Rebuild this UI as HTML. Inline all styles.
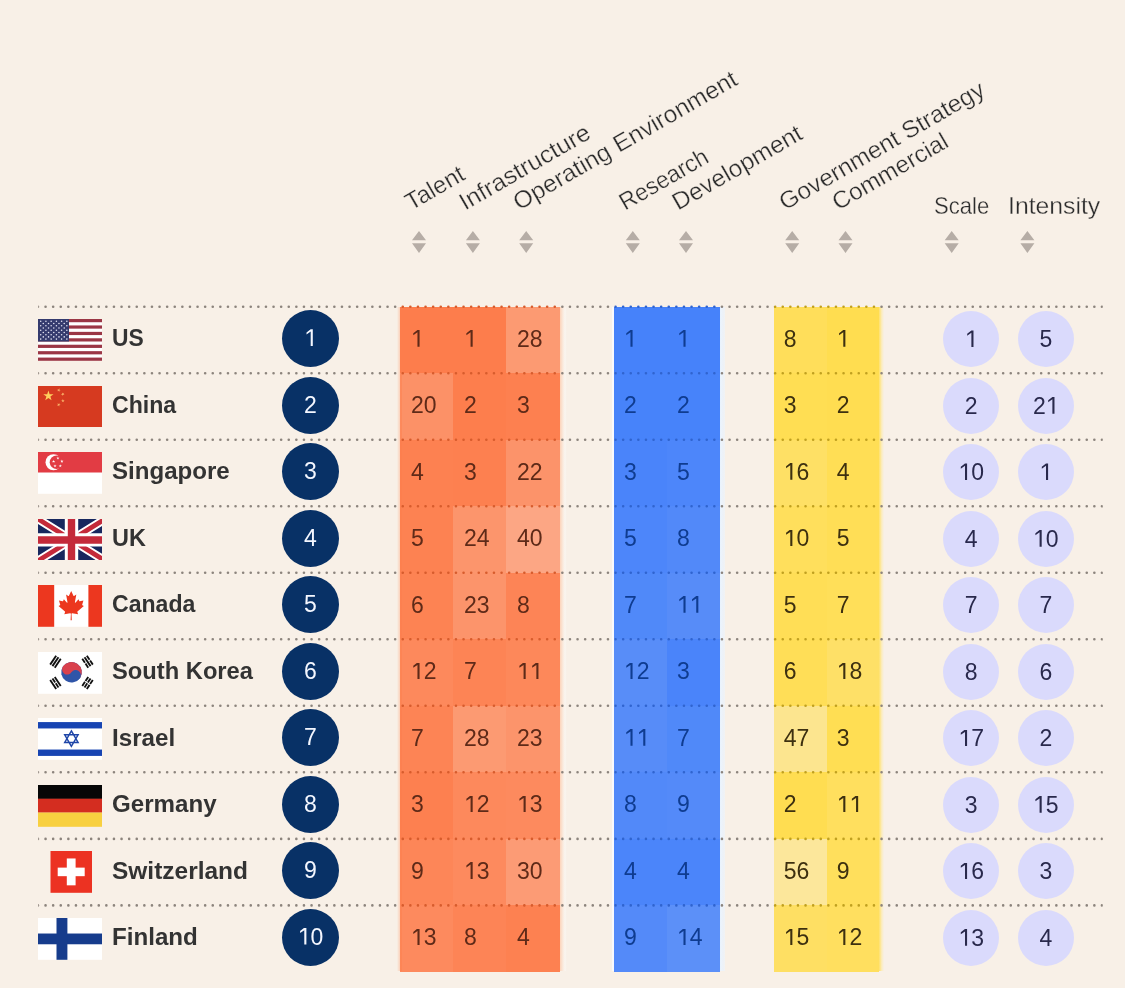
<!DOCTYPE html>
<html><head><meta charset="utf-8"><title>AI Index ranking</title>
<style>
html,body{margin:0;padding:0}
body{width:1125px;height:988px;background:#f8f0e7;position:relative;overflow:hidden;font-family:"Liberation Sans",sans-serif}
.abs{position:absolute}
#w{position:absolute;left:0;top:0;width:1125px;height:988px;will-change:transform}
.lbl{position:absolute;left:112px;font-weight:bold;font-size:23px;color:#333;white-space:nowrap;line-height:30px;height:30px;transform-origin:0 50%}
.rk{position:absolute;left:282px;width:57px;height:57px;border-radius:50%;background:#083166;color:#f4f7ff;font-size:23px;line-height:57px;text-align:center}
.c{position:absolute;height:66.52px;font-size:23px;line-height:64.52px;white-space:nowrap}
.c span{position:absolute;left:10px;top:0}
.lv{position:absolute;width:56px;height:56px;border-radius:50%;background:#dadafc;color:#29294c;font-size:23px;line-height:56.6px;text-align:center}
.hd{position:absolute;font-size:24px;color:#2c2c2c;-webkit-text-stroke:0.32px #f8f0e7;white-space:nowrap;line-height:28px;height:28px;transform-origin:0 100%}
.o{display:inline-block;width:.556em;height:.73em;overflow:hidden;text-indent:-9em;font-style:normal;white-space:nowrap;background:currentColor;clip-path:polygon(68% 0,51.5% 0,18.8% 19.6%,18.8% 31.5%,51.5% 14.3%,51.5% 100%,68% 100%)}
.flag{position:absolute;left:38px;width:64px;height:41.8px;display:block;filter:blur(.35px)}
.halo{position:absolute;top:306.7px;height:664.0px}
</style></head><body>
<div id="w">
<div class="halo" style="left:396.5px;width:5px;background:linear-gradient(90deg,rgba(253,190,150,0),rgba(253,170,130,.75))"></div>
<div class="halo" style="left:560px;width:7px;background:linear-gradient(90deg,rgba(253,200,170,.75),rgba(253,225,205,.45) 40%,rgba(250,247,243,.7) 70%,rgba(250,247,243,0))"></div>
<div class="halo" style="left:611.8px;width:2.6px;background:rgba(248,250,255,.9)"></div>
<div class="halo" style="left:720.2px;width:4.5px;background:linear-gradient(90deg,rgba(232,242,254,1),rgba(236,243,252,.6))"></div>
<div class="halo" style="left:878.5px;width:5px;background:linear-gradient(90deg,rgba(255,224,100,.95),rgba(255,232,150,.5) 55%,rgba(255,236,170,0))"></div>
<div class="c" style="left:400.2px;top:306.7px;width:53.3px;background:rgba(253,125,76,1.000);color:#5e2a18"><span style="left:10.7px"><i class="o">1</i></span></div>
<div class="c" style="left:453.3px;top:306.7px;width:53.2px;background:rgba(253,125,76,1.000);color:#5e2a18"><span style="left:10.7px"><i class="o">1</i></span></div>
<div class="c" style="left:506.3px;top:306.7px;width:53.9px;background:rgba(253,125,76,0.755);color:#5e2a18"><span style="left:10.7px">28</span></div>
<div class="c" style="left:614.2px;top:306.7px;width:53.2px;background:rgba(70,130,250,1.000);color:#0f3c90"><span style="left:9.7px"><i class="o">1</i></span></div>
<div class="c" style="left:667.2px;top:306.7px;width:53.2px;background:rgba(70,130,250,1.000);color:#0f3c90"><span style="left:9.7px"><i class="o">1</i></span></div>
<div class="c" style="left:773.9px;top:306.7px;width:53.2px;background:rgba(255,221,80,0.936);color:#3d3010"><span style="left:9.8px">8</span></div>
<div class="c" style="left:826.9px;top:306.7px;width:51.8px;background:rgba(255,221,80,1.000);color:#3d3010"><span style="left:9.8px"><i class="o">1</i></span></div>
<div class="c" style="left:400.2px;top:373.2px;width:53.3px;background:rgba(253,125,76,0.827);color:#5e2a18"><span style="left:10.7px">20</span></div>
<div class="c" style="left:453.3px;top:373.2px;width:53.2px;background:rgba(253,125,76,0.991);color:#5e2a18"><span style="left:10.7px">2</span></div>
<div class="c" style="left:506.3px;top:373.2px;width:53.9px;background:rgba(253,125,76,0.982);color:#5e2a18"><span style="left:10.7px">3</span></div>
<div class="c" style="left:614.2px;top:373.2px;width:53.2px;background:rgba(70,130,250,0.991);color:#0f3c90"><span style="left:9.7px">2</span></div>
<div class="c" style="left:667.2px;top:373.2px;width:53.2px;background:rgba(70,130,250,0.991);color:#0f3c90"><span style="left:9.7px">2</span></div>
<div class="c" style="left:773.9px;top:373.2px;width:53.2px;background:rgba(255,221,80,0.982);color:#3d3010"><span style="left:9.8px">3</span></div>
<div class="c" style="left:826.9px;top:373.2px;width:51.8px;background:rgba(255,221,80,0.991);color:#3d3010"><span style="left:9.8px">2</span></div>
<div class="c" style="left:400.2px;top:439.7px;width:53.3px;background:rgba(253,125,76,0.973);color:#5e2a18"><span style="left:10.7px">4</span></div>
<div class="c" style="left:453.3px;top:439.7px;width:53.2px;background:rgba(253,125,76,0.982);color:#5e2a18"><span style="left:10.7px">3</span></div>
<div class="c" style="left:506.3px;top:439.7px;width:53.9px;background:rgba(253,125,76,0.809);color:#5e2a18"><span style="left:10.7px">22</span></div>
<div class="c" style="left:614.2px;top:439.7px;width:53.2px;background:rgba(70,130,250,0.982);color:#0f3c90"><span style="left:9.7px">3</span></div>
<div class="c" style="left:667.2px;top:439.7px;width:53.2px;background:rgba(70,130,250,0.964);color:#0f3c90"><span style="left:9.7px">5</span></div>
<div class="c" style="left:773.9px;top:439.7px;width:53.2px;background:rgba(255,221,80,0.864);color:#3d3010"><span style="left:9.8px"><i class="o">1</i>6</span></div>
<div class="c" style="left:826.9px;top:439.7px;width:51.8px;background:rgba(255,221,80,0.973);color:#3d3010"><span style="left:9.8px">4</span></div>
<div class="c" style="left:400.2px;top:506.3px;width:53.3px;background:rgba(253,125,76,0.964);color:#5e2a18"><span style="left:10.7px">5</span></div>
<div class="c" style="left:453.3px;top:506.3px;width:53.2px;background:rgba(253,125,76,0.791);color:#5e2a18"><span style="left:10.7px">24</span></div>
<div class="c" style="left:506.3px;top:506.3px;width:53.9px;background:rgba(253,125,76,0.645);color:#5e2a18"><span style="left:10.7px">40</span></div>
<div class="c" style="left:614.2px;top:506.3px;width:53.2px;background:rgba(70,130,250,0.964);color:#0f3c90"><span style="left:9.7px">5</span></div>
<div class="c" style="left:667.2px;top:506.3px;width:53.2px;background:rgba(70,130,250,0.936);color:#0f3c90"><span style="left:9.7px">8</span></div>
<div class="c" style="left:773.9px;top:506.3px;width:53.2px;background:rgba(255,221,80,0.918);color:#3d3010"><span style="left:9.8px"><i class="o">1</i>0</span></div>
<div class="c" style="left:826.9px;top:506.3px;width:51.8px;background:rgba(255,221,80,0.964);color:#3d3010"><span style="left:9.8px">5</span></div>
<div class="c" style="left:400.2px;top:572.8px;width:53.3px;background:rgba(253,125,76,0.955);color:#5e2a18"><span style="left:10.7px">6</span></div>
<div class="c" style="left:453.3px;top:572.8px;width:53.2px;background:rgba(253,125,76,0.800);color:#5e2a18"><span style="left:10.7px">23</span></div>
<div class="c" style="left:506.3px;top:572.8px;width:53.9px;background:rgba(253,125,76,0.936);color:#5e2a18"><span style="left:10.7px">8</span></div>
<div class="c" style="left:614.2px;top:572.8px;width:53.2px;background:rgba(70,130,250,0.945);color:#0f3c90"><span style="left:9.7px">7</span></div>
<div class="c" style="left:667.2px;top:572.8px;width:53.2px;background:rgba(70,130,250,0.909);color:#0f3c90"><span style="left:9.7px"><i class="o">1</i><i class="o">1</i></span></div>
<div class="c" style="left:773.9px;top:572.8px;width:53.2px;background:rgba(255,221,80,0.964);color:#3d3010"><span style="left:9.8px">5</span></div>
<div class="c" style="left:826.9px;top:572.8px;width:51.8px;background:rgba(255,221,80,0.945);color:#3d3010"><span style="left:9.8px">7</span></div>
<div class="c" style="left:400.2px;top:639.3px;width:53.3px;background:rgba(253,125,76,0.900);color:#5e2a18"><span style="left:10.7px"><i class="o">1</i>2</span></div>
<div class="c" style="left:453.3px;top:639.3px;width:53.2px;background:rgba(253,125,76,0.945);color:#5e2a18"><span style="left:10.7px">7</span></div>
<div class="c" style="left:506.3px;top:639.3px;width:53.9px;background:rgba(253,125,76,0.909);color:#5e2a18"><span style="left:10.7px"><i class="o">1</i><i class="o">1</i></span></div>
<div class="c" style="left:614.2px;top:639.3px;width:53.2px;background:rgba(70,130,250,0.900);color:#0f3c90"><span style="left:9.7px"><i class="o">1</i>2</span></div>
<div class="c" style="left:667.2px;top:639.3px;width:53.2px;background:rgba(70,130,250,0.982);color:#0f3c90"><span style="left:9.7px">3</span></div>
<div class="c" style="left:773.9px;top:639.3px;width:53.2px;background:rgba(255,221,80,0.955);color:#3d3010"><span style="left:9.8px">6</span></div>
<div class="c" style="left:826.9px;top:639.3px;width:51.8px;background:rgba(255,221,80,0.845);color:#3d3010"><span style="left:9.8px"><i class="o">1</i>8</span></div>
<div class="c" style="left:400.2px;top:705.8px;width:53.3px;background:rgba(253,125,76,0.945);color:#5e2a18"><span style="left:10.7px">7</span></div>
<div class="c" style="left:453.3px;top:705.8px;width:53.2px;background:rgba(253,125,76,0.755);color:#5e2a18"><span style="left:10.7px">28</span></div>
<div class="c" style="left:506.3px;top:705.8px;width:53.9px;background:rgba(253,125,76,0.800);color:#5e2a18"><span style="left:10.7px">23</span></div>
<div class="c" style="left:614.2px;top:705.8px;width:53.2px;background:rgba(70,130,250,0.909);color:#0f3c90"><span style="left:9.7px"><i class="o">1</i><i class="o">1</i></span></div>
<div class="c" style="left:667.2px;top:705.8px;width:53.2px;background:rgba(70,130,250,0.945);color:#0f3c90"><span style="left:9.7px">7</span></div>
<div class="c" style="left:773.9px;top:705.8px;width:53.2px;background:rgba(255,221,80,0.582);color:#3d3010"><span style="left:9.8px">47</span></div>
<div class="c" style="left:826.9px;top:705.8px;width:51.8px;background:rgba(255,221,80,0.982);color:#3d3010"><span style="left:9.8px">3</span></div>
<div class="c" style="left:400.2px;top:772.3px;width:53.3px;background:rgba(253,125,76,0.982);color:#5e2a18"><span style="left:10.7px">3</span></div>
<div class="c" style="left:453.3px;top:772.3px;width:53.2px;background:rgba(253,125,76,0.900);color:#5e2a18"><span style="left:10.7px"><i class="o">1</i>2</span></div>
<div class="c" style="left:506.3px;top:772.3px;width:53.9px;background:rgba(253,125,76,0.891);color:#5e2a18"><span style="left:10.7px"><i class="o">1</i>3</span></div>
<div class="c" style="left:614.2px;top:772.3px;width:53.2px;background:rgba(70,130,250,0.936);color:#0f3c90"><span style="left:9.7px">8</span></div>
<div class="c" style="left:667.2px;top:772.3px;width:53.2px;background:rgba(70,130,250,0.927);color:#0f3c90"><span style="left:9.7px">9</span></div>
<div class="c" style="left:773.9px;top:772.3px;width:53.2px;background:rgba(255,221,80,0.991);color:#3d3010"><span style="left:9.8px">2</span></div>
<div class="c" style="left:826.9px;top:772.3px;width:51.8px;background:rgba(255,221,80,0.909);color:#3d3010"><span style="left:9.8px"><i class="o">1</i><i class="o">1</i></span></div>
<div class="c" style="left:400.2px;top:838.9px;width:53.3px;background:rgba(253,125,76,0.927);color:#5e2a18"><span style="left:10.7px">9</span></div>
<div class="c" style="left:453.3px;top:838.9px;width:53.2px;background:rgba(253,125,76,0.891);color:#5e2a18"><span style="left:10.7px"><i class="o">1</i>3</span></div>
<div class="c" style="left:506.3px;top:838.9px;width:53.9px;background:rgba(253,125,76,0.736);color:#5e2a18"><span style="left:10.7px">30</span></div>
<div class="c" style="left:614.2px;top:838.9px;width:53.2px;background:rgba(70,130,250,0.973);color:#0f3c90"><span style="left:9.7px">4</span></div>
<div class="c" style="left:667.2px;top:838.9px;width:53.2px;background:rgba(70,130,250,0.973);color:#0f3c90"><span style="left:9.7px">4</span></div>
<div class="c" style="left:773.9px;top:838.9px;width:53.2px;background:rgba(255,221,80,0.500);color:#3d3010"><span style="left:9.8px">56</span></div>
<div class="c" style="left:826.9px;top:838.9px;width:51.8px;background:rgba(255,221,80,0.927);color:#3d3010"><span style="left:9.8px">9</span></div>
<div class="c" style="left:400.2px;top:905.4px;width:53.3px;background:rgba(253,125,76,0.891);color:#5e2a18"><span style="left:10.7px"><i class="o">1</i>3</span></div>
<div class="c" style="left:453.3px;top:905.4px;width:53.2px;background:rgba(253,125,76,0.936);color:#5e2a18"><span style="left:10.7px">8</span></div>
<div class="c" style="left:506.3px;top:905.4px;width:53.9px;background:rgba(253,125,76,0.973);color:#5e2a18"><span style="left:10.7px">4</span></div>
<div class="c" style="left:614.2px;top:905.4px;width:53.2px;background:rgba(70,130,250,0.927);color:#0f3c90"><span style="left:9.7px">9</span></div>
<div class="c" style="left:667.2px;top:905.4px;width:53.2px;background:rgba(70,130,250,0.882);color:#0f3c90"><span style="left:9.7px"><i class="o">1</i>4</span></div>
<div class="c" style="left:773.9px;top:905.4px;width:53.2px;background:rgba(255,221,80,0.873);color:#3d3010"><span style="left:9.8px"><i class="o">1</i>5</span></div>
<div class="c" style="left:826.9px;top:905.4px;width:51.8px;background:rgba(255,221,80,0.900);color:#3d3010"><span style="left:9.8px"><i class="o">1</i>2</span></div>
<svg class="abs" style="left:0;top:0" width="1125" height="988" viewBox="0 0 1125 988">
<defs>
<clipPath id="s0"><rect x="38.2" y="0" width="362.0" height="988"/></clipPath>
<clipPath id="s1"><rect x="400.2" y="0" width="159.8" height="988"/></clipPath>
<clipPath id="s2"><rect x="560" y="0" width="54.2" height="988"/></clipPath>
<clipPath id="s3"><rect x="614.2" y="0" width="106.0" height="988"/></clipPath>
<clipPath id="s4"><rect x="720.2" y="0" width="53.7" height="988"/></clipPath>
<clipPath id="s5"><rect x="773.9" y="0" width="105.1" height="988"/></clipPath>
<clipPath id="s6"><rect x="879" y="0" width="223.8" height="988"/></clipPath>
</defs>
<g clip-path="url(#s0)" stroke="#8c847d" stroke-width="2.6" stroke-linecap="round" stroke-dasharray="0.01 7.59">
<line x1="37.95" y1="306.7" x2="1104" y2="306.7"/>
<line x1="37.95" y1="373.2" x2="1104" y2="373.2"/>
<line x1="37.95" y1="439.7" x2="1104" y2="439.7"/>
<line x1="37.95" y1="506.3" x2="1104" y2="506.3"/>
<line x1="37.95" y1="572.8" x2="1104" y2="572.8"/>
<line x1="37.95" y1="639.3" x2="1104" y2="639.3"/>
<line x1="37.95" y1="705.8" x2="1104" y2="705.8"/>
<line x1="37.95" y1="772.3" x2="1104" y2="772.3"/>
<line x1="37.95" y1="838.9" x2="1104" y2="838.9"/>
<line x1="37.95" y1="905.4" x2="1104" y2="905.4"/>
</g>
<g clip-path="url(#s1)" stroke="#d75c2d" stroke-width="2.6" stroke-linecap="round" stroke-dasharray="0.01 7.59">
<line x1="37.95" y1="306.7" x2="1104" y2="306.7"/>
<line x1="37.95" y1="373.2" x2="1104" y2="373.2"/>
<line x1="37.95" y1="439.7" x2="1104" y2="439.7"/>
<line x1="37.95" y1="506.3" x2="1104" y2="506.3"/>
<line x1="37.95" y1="572.8" x2="1104" y2="572.8"/>
<line x1="37.95" y1="639.3" x2="1104" y2="639.3"/>
<line x1="37.95" y1="705.8" x2="1104" y2="705.8"/>
<line x1="37.95" y1="772.3" x2="1104" y2="772.3"/>
<line x1="37.95" y1="838.9" x2="1104" y2="838.9"/>
<line x1="37.95" y1="905.4" x2="1104" y2="905.4"/>
</g>
<g clip-path="url(#s2)" stroke="#8c847d" stroke-width="2.6" stroke-linecap="round" stroke-dasharray="0.01 7.59">
<line x1="37.95" y1="306.7" x2="1104" y2="306.7"/>
<line x1="37.95" y1="373.2" x2="1104" y2="373.2"/>
<line x1="37.95" y1="439.7" x2="1104" y2="439.7"/>
<line x1="37.95" y1="506.3" x2="1104" y2="506.3"/>
<line x1="37.95" y1="572.8" x2="1104" y2="572.8"/>
<line x1="37.95" y1="639.3" x2="1104" y2="639.3"/>
<line x1="37.95" y1="705.8" x2="1104" y2="705.8"/>
<line x1="37.95" y1="772.3" x2="1104" y2="772.3"/>
<line x1="37.95" y1="838.9" x2="1104" y2="838.9"/>
<line x1="37.95" y1="905.4" x2="1104" y2="905.4"/>
</g>
<g clip-path="url(#s3)" stroke="#3064cf" stroke-width="2.6" stroke-linecap="round" stroke-dasharray="0.01 7.59">
<line x1="37.95" y1="306.7" x2="1104" y2="306.7"/>
<line x1="37.95" y1="373.2" x2="1104" y2="373.2"/>
<line x1="37.95" y1="439.7" x2="1104" y2="439.7"/>
<line x1="37.95" y1="506.3" x2="1104" y2="506.3"/>
<line x1="37.95" y1="572.8" x2="1104" y2="572.8"/>
<line x1="37.95" y1="639.3" x2="1104" y2="639.3"/>
<line x1="37.95" y1="705.8" x2="1104" y2="705.8"/>
<line x1="37.95" y1="772.3" x2="1104" y2="772.3"/>
<line x1="37.95" y1="838.9" x2="1104" y2="838.9"/>
<line x1="37.95" y1="905.4" x2="1104" y2="905.4"/>
</g>
<g clip-path="url(#s4)" stroke="#8c847d" stroke-width="2.6" stroke-linecap="round" stroke-dasharray="0.01 7.59">
<line x1="37.95" y1="306.7" x2="1104" y2="306.7"/>
<line x1="37.95" y1="373.2" x2="1104" y2="373.2"/>
<line x1="37.95" y1="439.7" x2="1104" y2="439.7"/>
<line x1="37.95" y1="506.3" x2="1104" y2="506.3"/>
<line x1="37.95" y1="572.8" x2="1104" y2="572.8"/>
<line x1="37.95" y1="639.3" x2="1104" y2="639.3"/>
<line x1="37.95" y1="705.8" x2="1104" y2="705.8"/>
<line x1="37.95" y1="772.3" x2="1104" y2="772.3"/>
<line x1="37.95" y1="838.9" x2="1104" y2="838.9"/>
<line x1="37.95" y1="905.4" x2="1104" y2="905.4"/>
</g>
<g clip-path="url(#s5)" stroke="#c0a020" stroke-width="2.6" stroke-linecap="round" stroke-dasharray="0.01 7.59">
<line x1="37.95" y1="306.7" x2="1104" y2="306.7"/>
<line x1="37.95" y1="373.2" x2="1104" y2="373.2"/>
<line x1="37.95" y1="439.7" x2="1104" y2="439.7"/>
<line x1="37.95" y1="506.3" x2="1104" y2="506.3"/>
<line x1="37.95" y1="572.8" x2="1104" y2="572.8"/>
<line x1="37.95" y1="639.3" x2="1104" y2="639.3"/>
<line x1="37.95" y1="705.8" x2="1104" y2="705.8"/>
<line x1="37.95" y1="772.3" x2="1104" y2="772.3"/>
<line x1="37.95" y1="838.9" x2="1104" y2="838.9"/>
<line x1="37.95" y1="905.4" x2="1104" y2="905.4"/>
</g>
<g clip-path="url(#s6)" stroke="#8c847d" stroke-width="2.6" stroke-linecap="round" stroke-dasharray="0.01 7.59">
<line x1="37.95" y1="306.7" x2="1104" y2="306.7"/>
<line x1="37.95" y1="373.2" x2="1104" y2="373.2"/>
<line x1="37.95" y1="439.7" x2="1104" y2="439.7"/>
<line x1="37.95" y1="506.3" x2="1104" y2="506.3"/>
<line x1="37.95" y1="572.8" x2="1104" y2="572.8"/>
<line x1="37.95" y1="639.3" x2="1104" y2="639.3"/>
<line x1="37.95" y1="705.8" x2="1104" y2="705.8"/>
<line x1="37.95" y1="772.3" x2="1104" y2="772.3"/>
<line x1="37.95" y1="838.9" x2="1104" y2="838.9"/>
<line x1="37.95" y1="905.4" x2="1104" y2="905.4"/>
</g>
</svg>
<svg class="flag" style="top:319.2px" viewBox="0 0 64 42" preserveAspectRatio="none"><rect width="64" height="42" fill="#fff"/><rect y="0.00" width="64" height="3.23" fill="#9b3645"/><rect y="6.46" width="64" height="3.23" fill="#9b3645"/><rect y="12.92" width="64" height="3.23" fill="#9b3645"/><rect y="19.38" width="64" height="3.23" fill="#9b3645"/><rect y="25.85" width="64" height="3.23" fill="#9b3645"/><rect y="32.31" width="64" height="3.23" fill="#9b3645"/><rect y="38.77" width="64" height="3.23" fill="#9b3645"/><rect width="31" height="22.62" fill="#353b6e"/><circle cx="2.70" cy="2.30" r="0.78" fill="#e4e4f4"/><circle cx="7.93" cy="2.30" r="0.78" fill="#e4e4f4"/><circle cx="13.16" cy="2.30" r="0.78" fill="#e4e4f4"/><circle cx="18.39" cy="2.30" r="0.78" fill="#e4e4f4"/><circle cx="23.62" cy="2.30" r="0.78" fill="#e4e4f4"/><circle cx="28.85" cy="2.30" r="0.78" fill="#e4e4f4"/><circle cx="5.30" cy="4.54" r="0.78" fill="#e4e4f4"/><circle cx="10.53" cy="4.54" r="0.78" fill="#e4e4f4"/><circle cx="15.76" cy="4.54" r="0.78" fill="#e4e4f4"/><circle cx="20.99" cy="4.54" r="0.78" fill="#e4e4f4"/><circle cx="26.22" cy="4.54" r="0.78" fill="#e4e4f4"/><circle cx="2.70" cy="6.78" r="0.78" fill="#e4e4f4"/><circle cx="7.93" cy="6.78" r="0.78" fill="#e4e4f4"/><circle cx="13.16" cy="6.78" r="0.78" fill="#e4e4f4"/><circle cx="18.39" cy="6.78" r="0.78" fill="#e4e4f4"/><circle cx="23.62" cy="6.78" r="0.78" fill="#e4e4f4"/><circle cx="28.85" cy="6.78" r="0.78" fill="#e4e4f4"/><circle cx="5.30" cy="9.02" r="0.78" fill="#e4e4f4"/><circle cx="10.53" cy="9.02" r="0.78" fill="#e4e4f4"/><circle cx="15.76" cy="9.02" r="0.78" fill="#e4e4f4"/><circle cx="20.99" cy="9.02" r="0.78" fill="#e4e4f4"/><circle cx="26.22" cy="9.02" r="0.78" fill="#e4e4f4"/><circle cx="2.70" cy="11.26" r="0.78" fill="#e4e4f4"/><circle cx="7.93" cy="11.26" r="0.78" fill="#e4e4f4"/><circle cx="13.16" cy="11.26" r="0.78" fill="#e4e4f4"/><circle cx="18.39" cy="11.26" r="0.78" fill="#e4e4f4"/><circle cx="23.62" cy="11.26" r="0.78" fill="#e4e4f4"/><circle cx="28.85" cy="11.26" r="0.78" fill="#e4e4f4"/><circle cx="5.30" cy="13.50" r="0.78" fill="#e4e4f4"/><circle cx="10.53" cy="13.50" r="0.78" fill="#e4e4f4"/><circle cx="15.76" cy="13.50" r="0.78" fill="#e4e4f4"/><circle cx="20.99" cy="13.50" r="0.78" fill="#e4e4f4"/><circle cx="26.22" cy="13.50" r="0.78" fill="#e4e4f4"/><circle cx="2.70" cy="15.74" r="0.78" fill="#e4e4f4"/><circle cx="7.93" cy="15.74" r="0.78" fill="#e4e4f4"/><circle cx="13.16" cy="15.74" r="0.78" fill="#e4e4f4"/><circle cx="18.39" cy="15.74" r="0.78" fill="#e4e4f4"/><circle cx="23.62" cy="15.74" r="0.78" fill="#e4e4f4"/><circle cx="28.85" cy="15.74" r="0.78" fill="#e4e4f4"/><circle cx="5.30" cy="17.98" r="0.78" fill="#e4e4f4"/><circle cx="10.53" cy="17.98" r="0.78" fill="#e4e4f4"/><circle cx="15.76" cy="17.98" r="0.78" fill="#e4e4f4"/><circle cx="20.99" cy="17.98" r="0.78" fill="#e4e4f4"/><circle cx="26.22" cy="17.98" r="0.78" fill="#e4e4f4"/><circle cx="2.70" cy="20.22" r="0.78" fill="#e4e4f4"/><circle cx="7.93" cy="20.22" r="0.78" fill="#e4e4f4"/><circle cx="13.16" cy="20.22" r="0.78" fill="#e4e4f4"/><circle cx="18.39" cy="20.22" r="0.78" fill="#e4e4f4"/><circle cx="23.62" cy="20.22" r="0.78" fill="#e4e4f4"/><circle cx="28.85" cy="20.22" r="0.78" fill="#e4e4f4"/></svg>
<div class="lbl" style="top:323.4px;transform:scaleX(0.993)">US</div>
<div class="rk" style="top:310.0px"><i class="o">1</i></div>
<div class="lv" style="left:943.2px;top:311.2px"><i class="o">1</i></div>
<div class="lv" style="left:1017.8px;top:311.2px">5</div>
<svg class="flag" style="top:385.7px" viewBox="0 0 64 42" preserveAspectRatio="none"><rect width="64" height="42" fill="#d63a20"/><polygon points="10.40,4.60 11.61,8.33 15.54,8.33 12.36,10.64 13.57,14.37 10.40,12.06 7.23,14.37 8.44,10.64 5.26,8.33 9.19,8.33" fill="#ffcf5e"/><polygon points="21.45,2.31 21.40,3.69 22.70,4.17 21.37,4.55 21.32,5.93 20.55,4.78 19.22,5.16 20.07,4.07 19.30,2.93 20.60,3.40" fill="#f9b068"/><polygon points="26.14,6.86 25.52,8.09 26.49,9.06 25.13,8.85 24.50,10.08 24.29,8.71 22.92,8.50 24.15,7.87 23.94,6.51 24.91,7.48" fill="#f9b068"/><polygon points="24.90,12.90 25.33,14.21 26.71,14.21 25.59,15.02 26.02,16.34 24.90,15.53 23.78,16.34 24.21,15.02 23.09,14.21 24.47,14.21" fill="#f9b068"/><polygon points="21.35,17.01 21.30,18.39 22.60,18.87 21.27,19.25 21.22,20.63 20.45,19.48 19.12,19.86 19.97,18.77 19.20,17.63 20.50,18.10" fill="#f9b068"/></svg>
<div class="lbl" style="top:389.9px;transform:scaleX(1.005)">China</div>
<div class="rk" style="top:376.5px">2</div>
<div class="lv" style="left:943.2px;top:377.7px">2</div>
<div class="lv" style="left:1017.8px;top:377.7px">2<i class="o">1</i></div>
<svg class="flag" style="top:452.2px" viewBox="0 0 64 42" preserveAspectRatio="none"><rect width="64" height="42" fill="#fff"/><rect width="64" height="20.6" fill="#e23c44"/><circle cx="15.5" cy="10.3" r="8" fill="#fff"/><circle cx="18.6" cy="10.3" r="6.9" fill="#e23c44"/><polygon points="19.90,4.50 20.28,5.67 21.52,5.67 20.52,6.40 20.90,7.58 19.90,6.85 18.90,7.58 19.28,6.40 18.28,5.67 19.52,5.67" fill="#fff"/><polygon points="15.60,7.80 15.98,8.97 17.22,8.97 16.22,9.70 16.60,10.88 15.60,10.15 14.60,10.88 14.98,9.70 13.98,8.97 15.22,8.97" fill="#fff"/><polygon points="23.90,7.60 24.28,8.77 25.52,8.77 24.52,9.50 24.90,10.68 23.90,9.95 22.90,10.68 23.28,9.50 22.28,8.77 23.52,8.77" fill="#fff"/><polygon points="17.00,12.30 17.38,13.47 18.62,13.47 17.62,14.20 18.00,15.38 17.00,14.65 16.00,15.38 16.38,14.20 15.38,13.47 16.62,13.47" fill="#fff"/><polygon points="22.30,12.30 22.68,13.47 23.92,13.47 22.92,14.20 23.30,15.38 22.30,14.65 21.30,15.38 21.68,14.20 20.68,13.47 21.92,13.47" fill="#fff"/></svg>
<div class="lbl" style="top:456.4px;transform:scaleX(1.047)">Singapore</div>
<div class="rk" style="top:443.0px">3</div>
<div class="lv" style="left:943.2px;top:444.2px"><i class="o">1</i>0</div>
<div class="lv" style="left:1017.8px;top:444.2px"><i class="o">1</i></div>
<svg class="flag" style="top:518.7px" viewBox="0 0 64 42" preserveAspectRatio="none"><clipPath id="ukc"><rect width="64" height="42"/></clipPath><g clip-path="url(#ukc)"><rect width="64" height="42" fill="#17275e"/><path d="M0 0L67 42M67 0L0 42" stroke="#fff" stroke-width="8.6"/><path d="M0 0L67 42M67 0L0 42" stroke="#c42a3a" stroke-width="4.8"/><path d="M33.5 0V42M0 21H64" stroke="#fff" stroke-width="13.4"/><path d="M33.5 0V42M0 21.1H64" stroke="#c42a3a" stroke-width="7.4"/></g></svg>
<div class="lbl" style="top:522.9px;transform:scaleX(1.02)">UK</div>
<div class="rk" style="top:509.5px">4</div>
<div class="lv" style="left:943.2px;top:510.7px">4</div>
<div class="lv" style="left:1017.8px;top:510.7px"><i class="o">1</i>0</div>
<svg class="flag" style="top:585.2px" viewBox="0 0 64 42" preserveAspectRatio="none"><rect width="64" height="42" fill="#fff"/><rect width="16.2" height="42" fill="#ec371f"/><rect x="50.4" width="13.6" height="42" fill="#ec371f"/><g transform="translate(33.2 20.6) scale(0.0068 0.0073) translate(-4800 -2400)"><path fill="#ec371f" d="M4890 4430l-45-863a95 95 0 0 1 111-98l859 151-116-320a65 65 0 0 1 20-73l941-762-212-99a65 65 0 0 1-34-79l186-572-542 115a65 65 0 0 1-73-38l-105-247-423 454a65 65 0 0 1-111-57l204-1052-327 189a65 65 0 0 1-91-27l-332-652-332 652a65 65 0 0 1-91 27l-327-189 204 1052a65 65 0 0 1-111 57l-423-454-105 247a65 65 0 0 1-73 38l-542-115 186 572a65 65 0 0 1-34 79l-212 99 941 762a65 65 0 0 1 20 73l-116 320 859-151a95 95 0 0 1 111 98l-45 863z"/></g></svg>
<div class="lbl" style="top:589.4px;transform:scaleX(1.004)">Canada</div>
<div class="rk" style="top:576.0px">5</div>
<div class="lv" style="left:943.2px;top:577.2px">7</div>
<div class="lv" style="left:1017.8px;top:577.2px">7</div>
<svg class="flag" style="top:651.8px" viewBox="0 0 64 42" preserveAspectRatio="none"><rect width="64" height="42" fill="#fff"/><g transform="translate(33.5 20.4) rotate(33.69)"><circle r="10.3" fill="#2f55a8"/><path d="M-10.3 0A10.3 10.3 0 0 1 10.3 0Z" fill="#d9414d"/><circle cx="-5.15" cy="0" r="5.15" fill="#d9414d"/><circle cx="5.15" cy="0" r="5.15" fill="#2f55a8"/></g><g transform="translate(33.5 20.4) rotate(213.69)"><rect x="15.6" y="-5.4" width="1.85" height="10.8" fill="#111"/><rect x="18.35" y="-5.4" width="1.85" height="10.8" fill="#111"/><rect x="21.1" y="-5.4" width="1.85" height="10.8" fill="#111"/></g><g transform="translate(33.5 20.4) rotate(33.69)"><rect x="15.6" y="-5.4" width="1.85" height="4.9" fill="#111"/><rect x="15.6" y="0.5" width="1.85" height="4.9" fill="#111"/><rect x="18.35" y="-5.4" width="1.85" height="4.9" fill="#111"/><rect x="18.35" y="0.5" width="1.85" height="4.9" fill="#111"/><rect x="21.1" y="-5.4" width="1.85" height="4.9" fill="#111"/><rect x="21.1" y="0.5" width="1.85" height="4.9" fill="#111"/></g><g transform="translate(33.5 20.4) rotate(-33.69)"><rect x="15.6" y="-5.4" width="1.85" height="4.9" fill="#111"/><rect x="15.6" y="0.5" width="1.85" height="4.9" fill="#111"/><rect x="18.35" y="-5.4" width="1.85" height="10.8" fill="#111"/><rect x="21.1" y="-5.4" width="1.85" height="4.9" fill="#111"/><rect x="21.1" y="0.5" width="1.85" height="4.9" fill="#111"/></g><g transform="translate(33.5 20.4) rotate(146.31)"><rect x="15.6" y="-5.4" width="1.85" height="10.8" fill="#111"/><rect x="18.35" y="-5.4" width="1.85" height="4.9" fill="#111"/><rect x="18.35" y="0.5" width="1.85" height="4.9" fill="#111"/><rect x="21.1" y="-5.4" width="1.85" height="10.8" fill="#111"/></g></svg>
<div class="lbl" style="top:656.0px;transform:scaleX(1.031)">South Korea</div>
<div class="rk" style="top:642.6px">6</div>
<div class="lv" style="left:943.2px;top:643.8px">8</div>
<div class="lv" style="left:1017.8px;top:643.8px">6</div>
<svg class="flag" style="top:718.3px" viewBox="0 0 64 42" preserveAspectRatio="none"><rect width="64" height="42" fill="#fff"/><rect y="4.1" width="64" height="6.4" fill="#1744b2"/><rect y="31.7" width="64" height="6.4" fill="#1744b2"/><path d="M33.4 13L40.07 24.55H26.73Z M33.4 28.4L26.73 16.85H40.07Z" fill="none" stroke="#1f46a8" stroke-width="1.5"/></svg>
<div class="lbl" style="top:722.5px;transform:scaleX(1.05)">Israel</div>
<div class="rk" style="top:709.1px">7</div>
<div class="lv" style="left:943.2px;top:710.3px"><i class="o">1</i>7</div>
<div class="lv" style="left:1017.8px;top:710.3px">2</div>
<svg class="flag" style="top:784.8px" viewBox="0 0 64 42" preserveAspectRatio="none"><rect width="64" height="14" fill="#060606"/><rect y="13.8" width="64" height="14" fill="#d42d20"/><rect y="27.7" width="64" height="14.3" fill="#f8d040"/></svg>
<div class="lbl" style="top:789.0px;transform:scaleX(1.049)">Germany</div>
<div class="rk" style="top:775.6px">8</div>
<div class="lv" style="left:943.2px;top:776.8px">3</div>
<div class="lv" style="left:1017.8px;top:776.8px"><i class="o">1</i>5</div>
<svg class="flag" style="top:851.3px" viewBox="0 0 64 42" preserveAspectRatio="none"><rect x="12.5" y="0" width="41.5" height="42" fill="#ec3222"/><rect x="28.8" y="7.5" width="8.8" height="27" fill="#fff"/><rect x="19.7" y="16.7" width="27" height="8.6" fill="#fff"/></svg>
<div class="lbl" style="top:855.5px;transform:scaleX(1.064)">Switzerland</div>
<div class="rk" style="top:842.1px">9</div>
<div class="lv" style="left:943.2px;top:843.3px"><i class="o">1</i>6</div>
<div class="lv" style="left:1017.8px;top:843.3px">3</div>
<svg class="flag" style="top:917.8px" viewBox="0 0 64 42" preserveAspectRatio="none"><rect width="64" height="42" fill="#fff"/><rect y="15.6" width="64" height="10.8" fill="#163c8c"/><rect x="18.5" width="10.9" height="42" fill="#163c8c"/></svg>
<div class="lbl" style="top:922.0px;transform:scaleX(1.05)">Finland</div>
<div class="rk" style="top:908.6px"><i class="o">1</i>0</div>
<div class="lv" style="left:943.2px;top:909.8px"><i class="o">1</i>3</div>
<div class="lv" style="left:1017.8px;top:909.8px">4</div>
<div class="hd" style="left:414px;top:187.5px;transform:rotate(-30deg) scaleX(1.0)">Talent</div>
<div class="hd" style="left:468px;top:187.5px;transform:rotate(-30deg) scaleX(1.04)">Infrastructure</div>
<div class="hd" style="left:522px;top:187.5px;transform:rotate(-30deg) scaleX(1.03)">Operating Environment</div>
<div class="hd" style="left:628px;top:187.5px;transform:rotate(-30deg) scaleX(0.96)">Research</div>
<div class="hd" style="left:681px;top:187.5px;transform:rotate(-30deg) scaleX(1.03)">Development</div>
<div class="hd" style="left:788px;top:187.5px;transform:rotate(-30deg) scaleX(1.02)">Government Strategy</div>
<div class="hd" style="left:841px;top:187.5px;transform:rotate(-30deg) scaleX(1.012)">Commercial</div>
<div class="hd" style="left:933.8px;top:191.8px;transform:scaleX(0.92)">Scale</div>
<div class="hd" style="left:1008.2px;top:191.8px;transform:scaleX(1.032)">Intensity</div>
<svg class="abs" style="left:0;top:0" width="1125" height="988" viewBox="0 0 1125 988" fill="#b6ada6">
<path d="M412.0 240.3 L419.0 231 L426.0 240.3Z M412.0 243.2 L419.0 253 L426.0 243.2Z"/>
<path d="M465.9 240.3 L472.9 231 L479.9 240.3Z M465.9 243.2 L472.9 253 L479.9 243.2Z"/>
<path d="M519.2 240.3 L526.2 231 L533.2 240.3Z M519.2 243.2 L526.2 253 L533.2 243.2Z"/>
<path d="M625.8 240.3 L632.8 231 L639.8 240.3Z M625.8 243.2 L632.8 253 L639.8 243.2Z"/>
<path d="M679.0 240.3 L686.0 231 L693.0 240.3Z M679.0 243.2 L686.0 253 L693.0 243.2Z"/>
<path d="M785.2 240.3 L792.2 231 L799.2 240.3Z M785.2 243.2 L792.2 253 L799.2 243.2Z"/>
<path d="M838.5 240.3 L845.5 231 L852.5 240.3Z M838.5 243.2 L845.5 253 L852.5 243.2Z"/>
<path d="M944.7 240.3 L951.7 231 L958.7 240.3Z M944.7 243.2 L951.7 253 L958.7 243.2Z"/>
<path d="M1020.4 240.3 L1027.4 231 L1034.4 240.3Z M1020.4 243.2 L1027.4 253 L1034.4 243.2Z"/>
</svg>
</div>
</body></html>
